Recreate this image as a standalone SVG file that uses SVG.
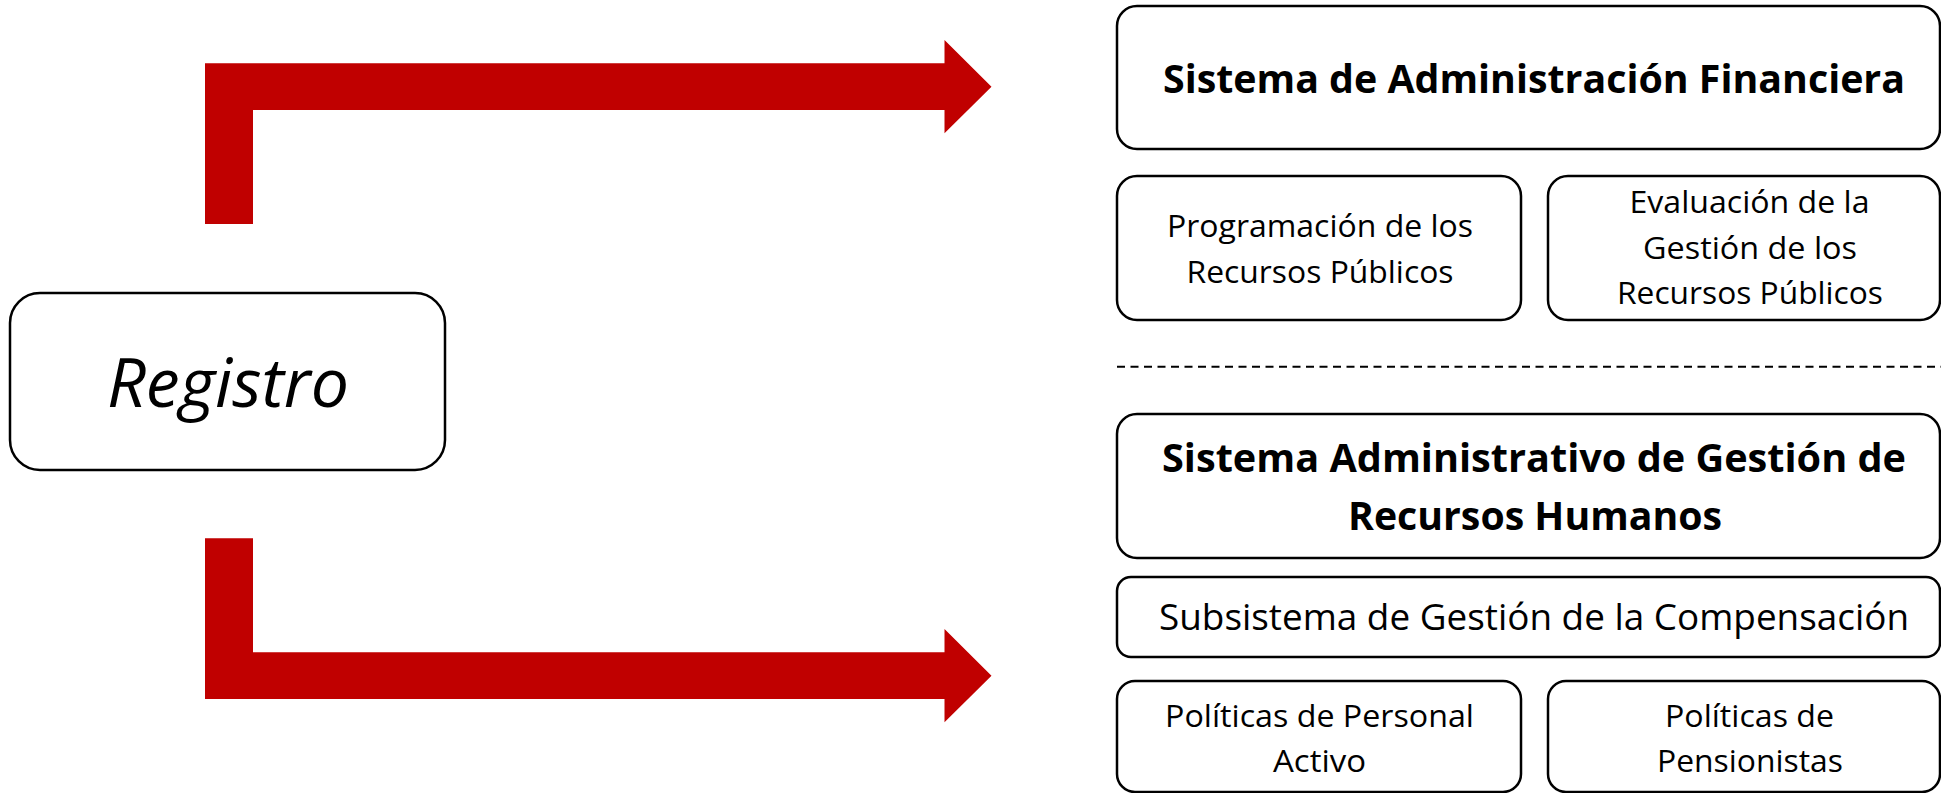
<svg xmlns="http://www.w3.org/2000/svg" width="1941" height="793" viewBox="0 0 1941 793">
  <style>
    .box { fill: #ffffff; stroke: #000000; stroke-width: 2.5; }
    .arrow { fill: #C00000; stroke: none; }
    .t { font-family: "Open Sans", "Liberation Sans", sans-serif; font-size: 31px; fill: #000000; text-anchor: middle; }
    .b { font-weight: bold; font-size: 39px; }
    .m { font-size: 37px; }
    .reg { font-style: italic; font-size: 67px; }
    .dash { stroke: #000000; stroke-width: 2; stroke-dasharray: 8 5.5; fill: none; }
  </style>
  <rect width="1941" height="793" fill="#ffffff"/>
  <g id="connectors">
    <path class="arrow" d="M205,224 L205,63.3 L944.5,63.3 L944.5,40 L991.5,86.7 L944.5,133.3 L944.5,110 L253,110 L253,224 Z"/>
    <path class="arrow" d="M205,538.3 L253,538.3 L253,652.3 L944.5,652.3 L944.5,629 L991.5,675.7 L944.5,722.3 L944.5,699 L205,699 Z"/>
  </g>
  <g id="registro">
    <rect class="box" x="10" y="293" width="435" height="177" rx="30" ry="30"/>
    <text class="t reg" x="228" y="406.7" textLength="242" lengthAdjust="spacingAndGlyphs">Registro</text>
  </g>
  <g id="saf">
    <rect class="box" x="1117" y="6" width="823" height="143" rx="20" ry="20"/>
    <text class="t b" x="1534" y="93" textLength="742" lengthAdjust="spacingAndGlyphs">Sistema de Administración Financiera</text>
  </g>
  <g id="programacion">
    <rect class="box" x="1117" y="176" width="404" height="144" rx="20" ry="20"/>
    <text class="t" x="1320" y="237.3" textLength="306" lengthAdjust="spacingAndGlyphs">Programación de los</text>
    <text class="t" x="1320" y="282.7" textLength="267" lengthAdjust="spacingAndGlyphs">Recursos Públicos</text>
  </g>
  <g id="evaluacion">
    <rect class="box" x="1548" y="176" width="392" height="144" rx="20" ry="20"/>
    <text class="t" x="1749.5" y="213.3" textLength="240" lengthAdjust="spacingAndGlyphs">Evaluación de la</text>
    <text class="t" x="1750" y="259.3" textLength="214" lengthAdjust="spacingAndGlyphs">Gestión de los</text>
    <text class="t" x="1750" y="304" textLength="266" lengthAdjust="spacingAndGlyphs">Recursos Públicos</text>
  </g>
  <g id="separator">
    <line class="dash" x1="1117" y1="366.7" x2="1941" y2="366.7"/>
  </g>
  <g id="sagrh">
    <rect class="box" x="1117" y="414" width="823" height="144" rx="20" ry="20"/>
    <text class="t b" x="1534" y="471.7" textLength="744" lengthAdjust="spacingAndGlyphs">Sistema Administrativo de Gestión de</text>
    <text class="t b" x="1535" y="530" textLength="374" lengthAdjust="spacingAndGlyphs">Recursos Humanos</text>
  </g>
  <g id="subsistema">
    <rect class="box" x="1117" y="577" width="823" height="80" rx="14" ry="14"/>
    <text class="t m" x="1534" y="630" textLength="750" lengthAdjust="spacingAndGlyphs">Subsistema de Gestión de la Compensación</text>
  </g>
  <g id="politicas-activo">
    <rect class="box" x="1117" y="681" width="404" height="111" rx="18" ry="18"/>
    <text class="t" x="1319.5" y="726.7" textLength="309" lengthAdjust="spacingAndGlyphs">Políticas de Personal</text>
    <text class="t" x="1319.5" y="771.7" textLength="93" lengthAdjust="spacingAndGlyphs">Activo</text>
  </g>
  <g id="politicas-pensionistas">
    <rect class="box" x="1548" y="681" width="392" height="111" rx="18" ry="18"/>
    <text class="t" x="1749.5" y="726.7" textLength="169" lengthAdjust="spacingAndGlyphs">Políticas de</text>
    <text class="t" x="1750" y="771.7" textLength="186" lengthAdjust="spacingAndGlyphs">Pensionistas</text>
  </g>
</svg>
